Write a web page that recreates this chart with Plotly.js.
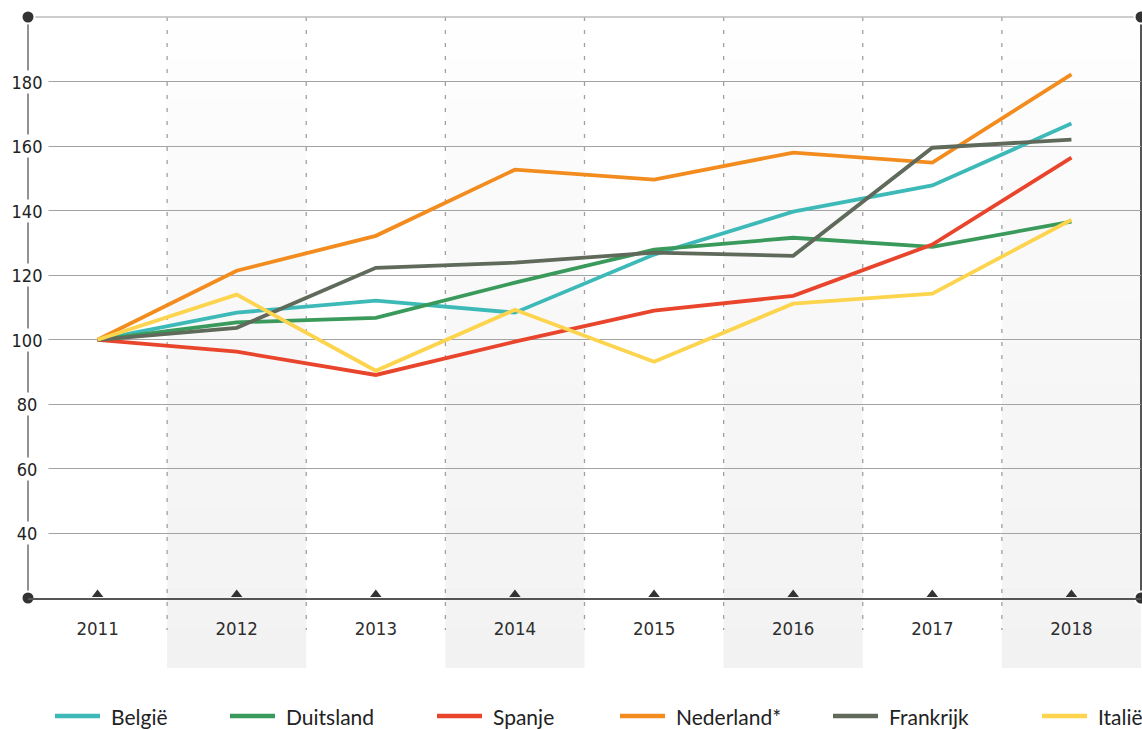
<!DOCTYPE html>
<html>
<head>
<meta charset="utf-8">
<script src="https://cdn.plot.ly/plotly-3.0.1.min.js"></script>
<style>html,body{margin:0;padding:0;background:#fff;}#chart{width:1142px;height:730px;}</style>
</head>
<body>
<div id="chart"></div>
<script>
const years = [2011, 2012, 2013, 2014, 2015, 2016, 2017, 2018];
const belgie     = [100, 108.4, 112.1, 108.4, 126.4, 139.7, 147.8, 167.0];
const duitsland  = [100, 105.4, 106.8, 117.7, 127.9, 131.6, 128.8, 136.6];
const spanje     = [100, 96.3, 89.1, 99.4, 109.0, 113.6, 129.5, 156.4];
const nederland  = [100, 121.4, 132.2, 152.7, 149.6, 158.0, 154.9, 182.2];
const frankrijk  = [100, 103.7, 122.3, 123.9, 127.0, 126.0, 159.5, 162.0];
const italie     = [100, 114.0, 90.4, 109.3, 93.2, 111.2, 114.3, 137.2];
const seriesNames = ['België', 'Duitsland', 'Spanje', 'Nederland*', 'Frankrijk', 'Italië'];
const seriesColors = ['#3dbab8', '#3a9a5b', '#e8452c', '#f28c1e', '#5f6a5b', '#fdd44e'];
const yTicks = [40, 60, 80, 100, 120, 140, 160, 180];
const yRange = [20, 200];
const xRange = [2010.5, 2018.5];
const shadedYears = [2012, 2014, 2016, 2018];

const W = 1142, H = 730, ML = 28, MR = 1, MT = 17, MB = 132;
const PW = W - ML - MR, PH = H - MT - MB;
const px = x => (x - ML) / PW;
const py = y => (H - MB - y) / PH;
const tickFont = '"DejaVu Sans Condensed", "Liberation Sans Narrow", Roboto, sans-serif';

const allSeries = [belgie, duitsland, spanje, nederland, frankrijk, italie];
const traces = allSeries.map((vals, i) => ({
  type: 'scatter', mode: 'lines', x: years, y: vals, name: seriesNames[i],
  line: {color: seriesColors[i], width: 3.8, shape: 'linear'},
  showlegend: false, hoverinfo: 'x+y+name'
}));

// axis triangles at each year
const triY = yRange[0] + 3.5 * (yRange[1] - yRange[0]) / PH;
traces.push({
  type: 'scatter', mode: 'markers', x: years, y: years.map(() => triY),
  marker: {symbol: 'triangle-up', size: 10, color: '#333'},
  showlegend: false, hoverinfo: 'skip', cliponaxis: false
});
// corner dots
traces.push({
  type: 'scatter', mode: 'markers',
  x: [xRange[0], xRange[1], xRange[0], xRange[1]],
  y: [yRange[1], yRange[1], yRange[0], yRange[0]],
  marker: {symbol: 'circle', size: 13, color: '#333', line: {color: '#fff', width: 2}},
  showlegend: false, hoverinfo: 'skip', cliponaxis: false
});

const shapes = [];
// gradient shaded bands
const bandTop = 1, bandBot = py(668), steps = 16;
shadedYears.forEach(yr => {
  for (let s = 0; s < steps; s++) {
    const t = (s + 0.5) / steps;
    const v = Math.round(255 - Math.pow(t, 0.8) * 13);
    shapes.push({
      type: 'rect', xref: 'x', yref: 'paper', layer: 'below',
      x0: yr - 0.5, x1: yr + 0.5,
      y0: bandTop + (bandBot - bandTop) * s / steps,
      y1: bandTop + (bandBot - bandTop) * (s + 1) / steps,
      fillcolor: `rgb(${v},${v},${v})`, line: {width: 0}
    });
  }
});
// dashed separators
for (let k = 0; k < years.length - 1; k++) {
  shapes.push({
    type: 'line', xref: 'x', yref: 'paper', layer: 'below',
    x0: years[k] + 0.5, x1: years[k] + 0.5, y0: 1, y1: py(630),
    line: {color: '#a0a0a0', width: 1.3, dash: '4px,9px'}
  });
}
// frame lines
shapes.push({type: 'line', xref: 'paper', yref: 'paper', x0: 0, x1: 1, y0: 1, y1: 1, line: {color: '#bdbdbd', width: 1.5}, layer: 'below'});
shapes.push({type: 'line', xref: 'paper', yref: 'paper', x0: 0, x1: 0, y0: 0, y1: 1, line: {color: '#777', width: 1.6}, layer: 'below'});
shapes.push({type: 'line', xref: 'paper', yref: 'paper', x0: 1, x1: 1, y0: 0, y1: 1, line: {color: '#555', width: 2}, layer: 'below'});

const annotations = [];
// y tick labels with white background (breaks axis line, gridline starts after label)
yTicks.forEach(v => {
  annotations.push({
    xref: 'paper', yref: 'y', x: px(27), y: v, xanchor: 'center', yanchor: 'middle',
    text: String(v), showarrow: false, width: 40, height: 20, bgcolor: '#fff',
    font: {family: tickFont, size: 18, color: '#222'}
  });
});

// custom legend
const legLineX = [55, 230, 437, 620, 833, 1042];
const legY = 716;
seriesNames.forEach((nm, i) => {
  shapes.push({
    type: 'path', xref: 'paper', yref: 'paper',
    path: `M ${px(legLineX[i])} ${py(legY)} L ${px(legLineX[i] + 45)} ${py(legY)}`,
    line: {color: seriesColors[i], width: 4.5}
  });
  annotations.push({
    xref: 'paper', yref: 'paper', x: px(legLineX[i] + 54), y: py(legY),
    xanchor: 'left', yanchor: 'middle', text: nm, showarrow: false,
    font: {family: 'Lato, "Open Sans", sans-serif', size: 21, color: '#222'}
  });
});

const layout = {
  width: W, height: H,
  margin: {l: ML, r: MR, t: MT, b: MB, pad: 0},
  paper_bgcolor: '#fff', plot_bgcolor: 'rgba(0,0,0,0)',
  showlegend: false,
  xaxis: {
    range: xRange, tickvals: years, ticktext: years.map(String),
    showgrid: false, zeroline: false,
    showline: true, linecolor: '#555', linewidth: 2,
    ticks: '', ticklabelstandoff: 13,
    tickfont: {family: tickFont, size: 18.5, color: '#2e2e2e'}
  },
  yaxis: {
    range: yRange, tickvals: yTicks, showticklabels: false,
    showgrid: true, gridcolor: '#a3a3a3', gridwidth: 1,
    zeroline: false, showline: false, ticks: ''
  },
  shapes: shapes,
  annotations: annotations
};

Plotly.newPlot('chart', traces, layout, {displayModeBar: false, staticPlot: true});
</script>
</body>
</html>
